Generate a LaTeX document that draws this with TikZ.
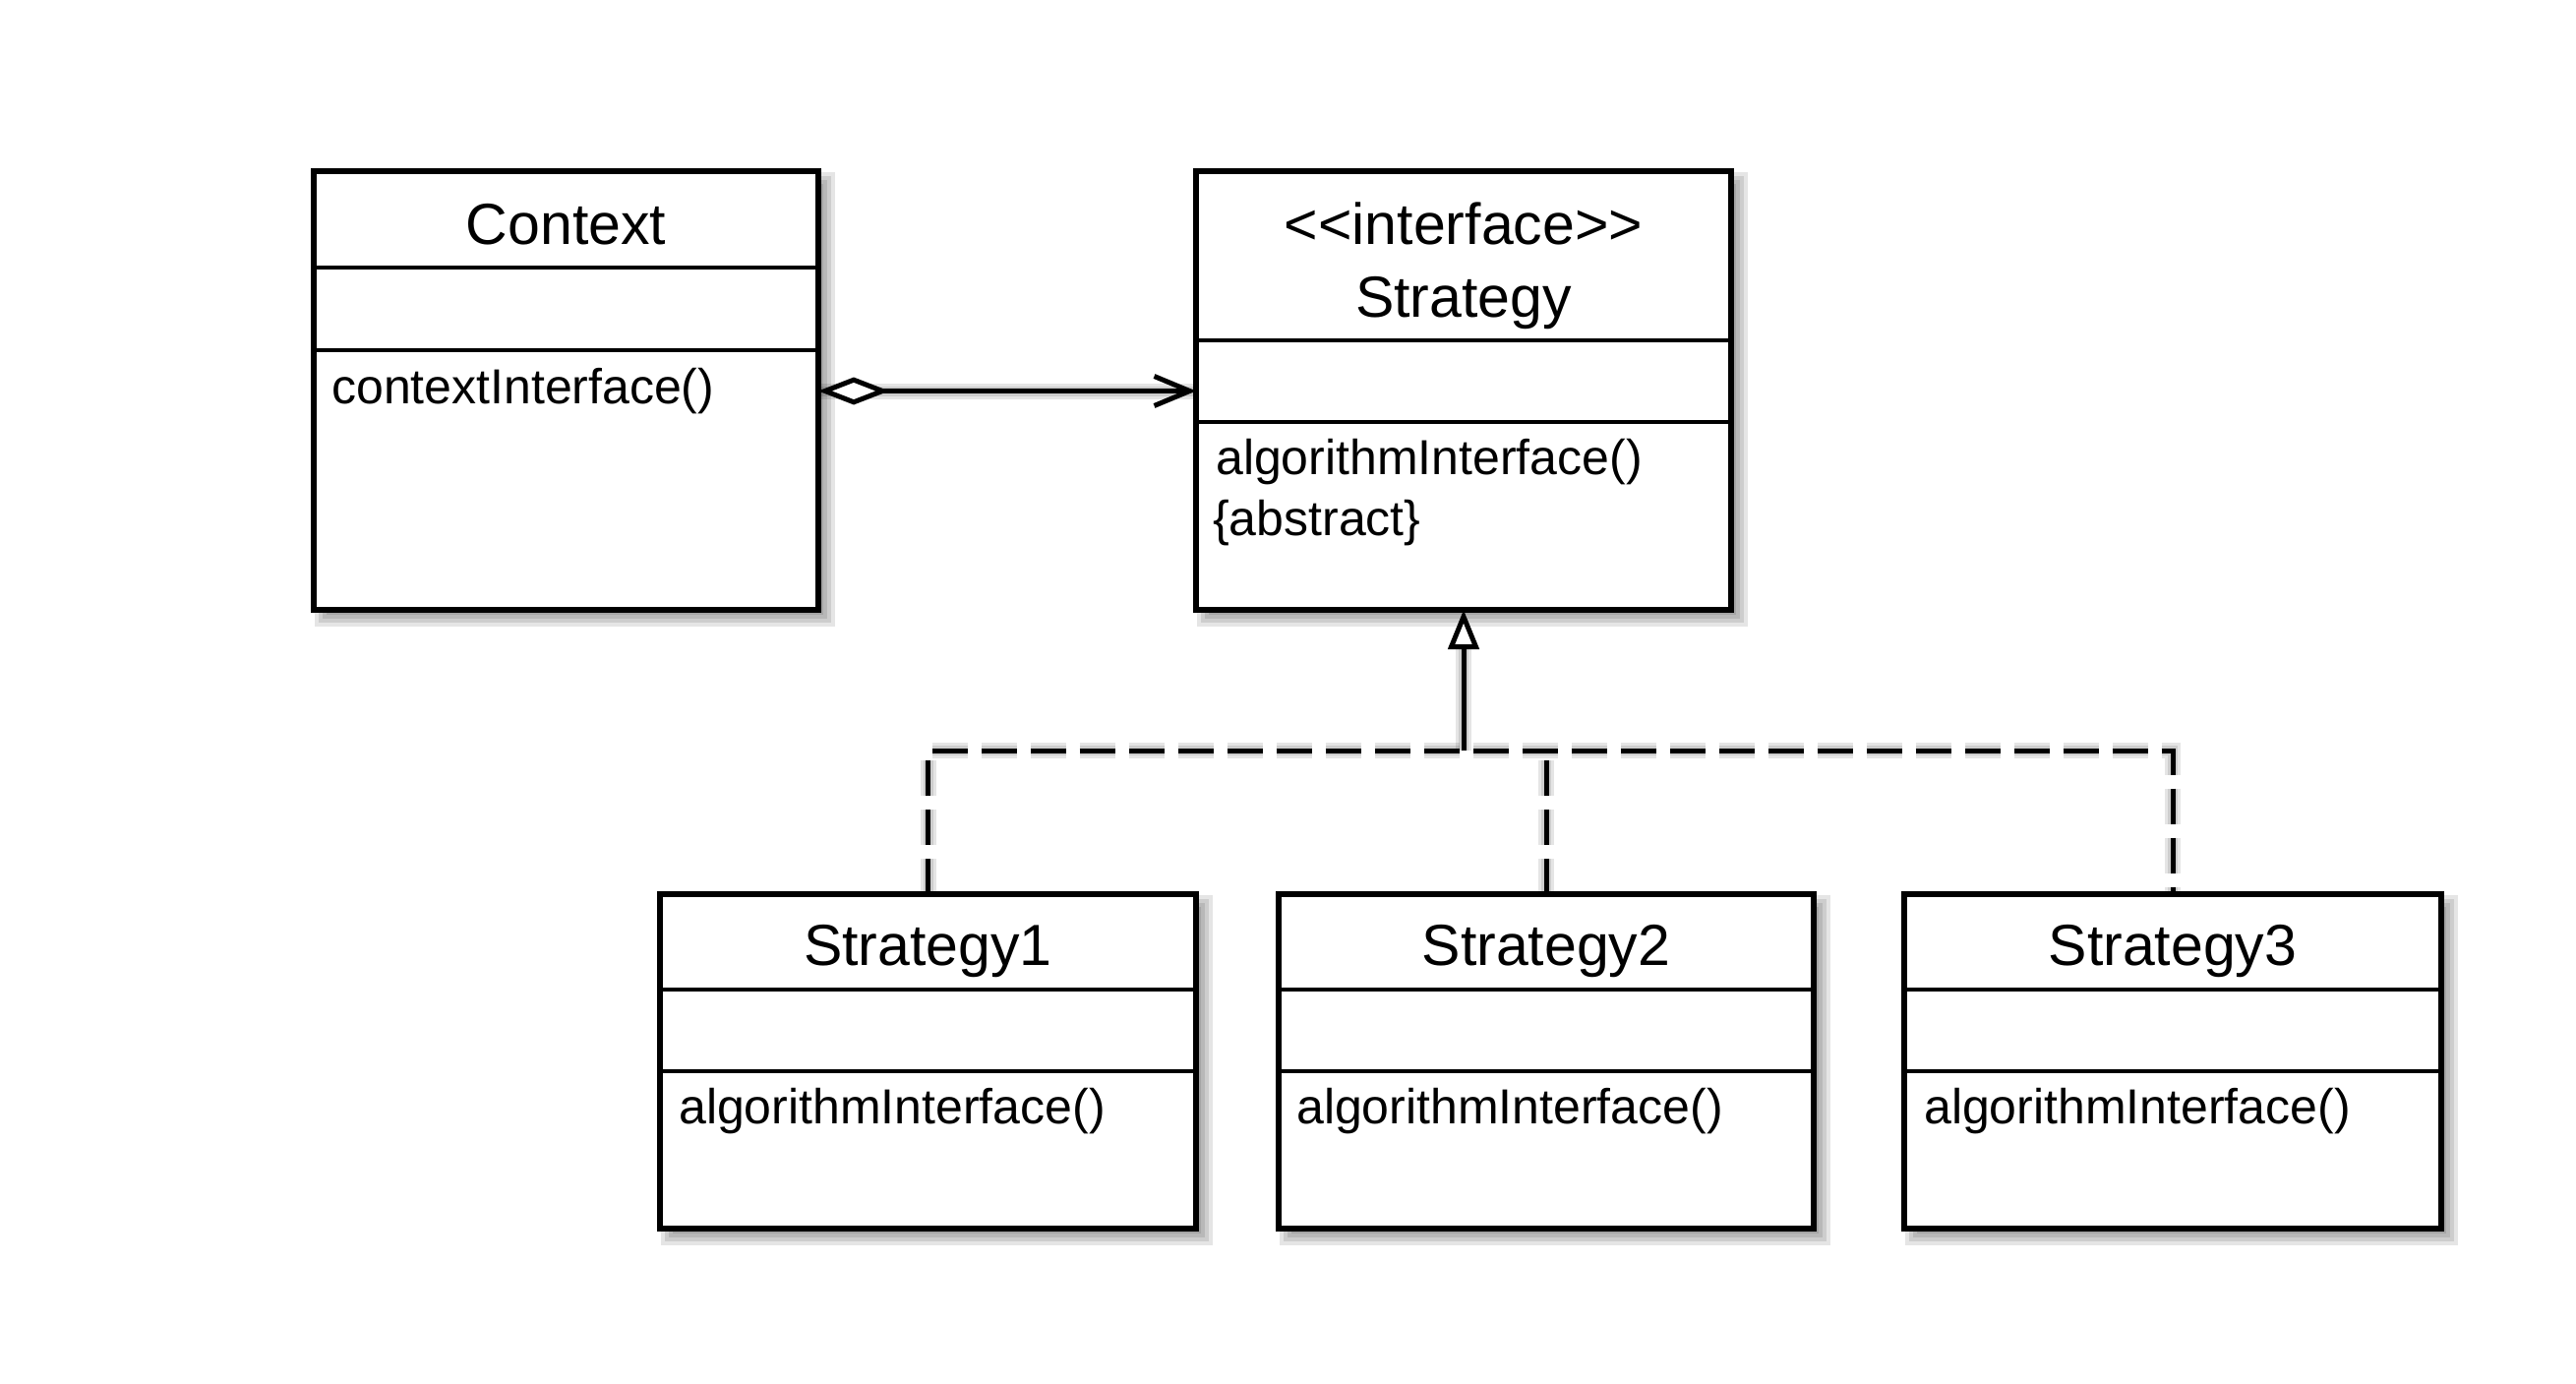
\documentclass[tikz,border=0pt]{standalone}
\usepackage{fontspec}
\setmainfont{Liberation Sans}
\usetikzlibrary{arrows.meta,calc}
\pgfdeclarelayer{bg}
\pgfsetlayers{bg,main}
\begin{document}
\begin{tikzpicture}[x=1pt,y=-1pt,
  umlbox/.style={draw, line width=5.5pt, fill=white, rectangle, inner sep=0pt, outer sep=0pt, anchor=north west},
  sep/.style={line width=4pt},
  ttl/.style={inner sep=0pt, anchor=base, font=\fontsize{59}{70}\selectfont},
  mth/.style={inner sep=0pt, anchor=base west, font=\fontsize{50}{60}\selectfont},
  conn/.style={line width=5pt},
  dashline/.style={line width=5pt, dash pattern=on 36pt off 14pt},
  shd/.style={draw=black, opacity=0.1},
]
\useasboundingbox (0,0) rectangle (2619,1407);

% boxes
\node[umlbox, minimum width=513pt, minimum height=446pt] (ctx) at (319,174) {};
\node[umlbox, minimum width=544pt, minimum height=446pt] (strat) at (1216,174) {};
\node[umlbox, minimum width=545pt, minimum height=340pt] (s1) at (671,909) {};
\node[umlbox, minimum width=544pt, minimum height=340pt] (s2) at (1300,909) {};
\node[umlbox, minimum width=546pt, minimum height=340pt] (s3) at (1936,909) {};

% compartments
\draw[sep] (ctx.west |- 0,272) -- (ctx.east |- 0,272);
\draw[sep] (ctx.west |- 0,356) -- (ctx.east |- 0,356);
\draw[sep] (strat.west |- 0,346) -- (strat.east |- 0,346);
\draw[sep] (strat.west |- 0,429) -- (strat.east |- 0,429);
\foreach \b in {s1,s2,s3}{
  \draw[sep] (\b.west |- 0,1006) -- (\b.east |- 0,1006);
  \draw[sep] (\b.west |- 0,1089) -- (\b.east |- 0,1089);
}

% texts
\node[ttl] (ctxT) at (575.5,248) {Context};
\node[mth] (ctxM) at (337,410) {contextInterface()};
\node[ttl] (ifT) at (1488,248) {<{}<interface>{}>};
\node[ttl] (stT) at (1488,322) {Strategy};
\node[mth] (stM) at (1236,482) {algorithmInterface()};
\node[mth] (stA) at (1233,544) {\{abstract\}};
\node[ttl] (s1T) at (943.5,981) {Strategy1};
\node[ttl] (s2T) at (1572,981) {Strategy2};
\node[ttl] (s3T) at (2209,981) {Strategy3};
\node[mth] (s1M) at (690,1142) {algorithmInterface()};
\node[mth] (s2M) at (1318,1142) {algorithmInterface()};
\node[mth] (s3M) at (1956,1142) {algorithmInterface()};

% connectors
\coordinate (aggy) at (0,397.5);
\coordinate (junc) at (strat.south |- 0,763);
\draw[conn, {Diamond[fill=white,length=72pt,width=28pt]}-{Straight Barb[length=36pt,width=30pt]}]
  (ctx.east |- aggy) -- (strat.west |- aggy);
\draw[dashline] (s1.north) -- (s1.north |- junc) -- (s3.north |- junc) -- (s3.north);
\draw[dashline] (s2.north) -- (s2.north |- junc);
\draw[conn, -{Triangle[fill=white,length=40pt,width=31pt]}] (junc) -- (strat.south);

% shadows
\begin{pgfonlayer}{bg}
\fill[white] (0,0) rectangle (2619,1407);
\foreach \n in {ctx,strat,s1,s2,s3}{
  \foreach \a/\b in {13/5,9/9,5/13,1/17}{
    \fill[black,opacity=0.1] ($(\n.north west)+(\a,\a)$) rectangle ($(\n.south east)+(\b,\b)$);
  }
}
\begin{scope}[shift={(9,9)}]
  \foreach \w in {5,10,16}{
    \draw[shd, line width=\w pt] (ctx.east |- aggy) -- (strat.west |- aggy);
    \draw[shd, line width=\w pt] (junc) -- ($(strat.south)+(0,30)$);
    \draw[shd, line width=\w pt, dash pattern=on 36pt off 14pt] (s1.north) -- (s1.north |- junc) -- (s3.north |- junc) -- (s3.north);
    \draw[shd, line width=\w pt, dash pattern=on 36pt off 14pt] (s2.north) -- (s2.north |- junc);
  }
\end{scope}
\end{pgfonlayer}
\end{tikzpicture}
\end{document}
